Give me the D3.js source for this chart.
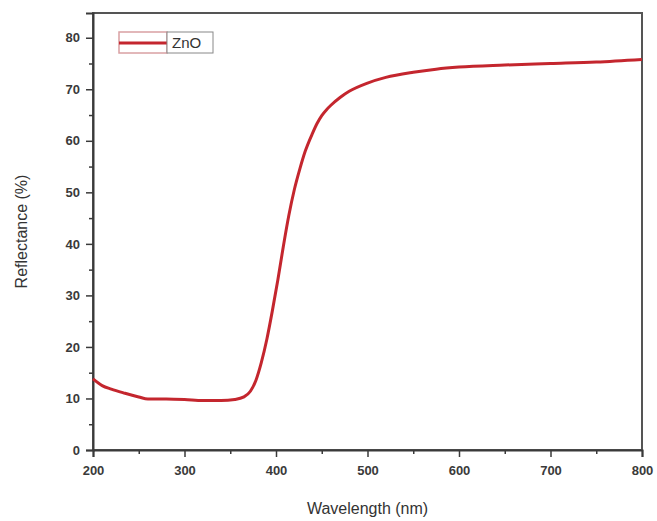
<!DOCTYPE html>
<html>
<head>
<meta charset="utf-8">
<script src="https://cdn.jsdelivr.net/npm/d3@7"></script>
<style>
  body { margin: 0; background: #fff; }
  text { font-family: "Liberation Sans", Arial, sans-serif; }
</style>
</head>
<body>
<svg id="chart" width="657" height="521"></svg>
<script>
// wavelength (nm) and reflectance (%)
var wavelength = [200, 210, 220, 235, 250, 260, 280, 300, 320, 340, 355, 365, 372, 378, 384, 390, 396, 402, 408, 414, 420, 426, 432, 440, 445, 450, 455, 460, 470, 480, 500, 520, 550, 575, 600, 650, 700, 750, 800];
var reflectance = [13.8, 12.5, 11.8, 11.0, 10.3, 9.9, 9.9, 9.8, 9.6, 9.6, 9.8, 10.3, 11.4, 13.5, 17, 21.5, 27, 33, 39.5, 45.5, 50.5, 54.5, 58, 61.5, 63.4, 64.9, 66.0, 66.9, 68.4, 69.6, 71.2, 72.3, 73.3, 73.9, 74.3, 74.7, 75.0, 75.3, 75.8];
var xTicks = [200, 300, 400, 500, 600, 700, 800];
var yTicks = [0, 10, 20, 30, 40, 50, 60, 70, 80];
var seriesName = "ZnO";

var svg = d3.select("#chart");
var mLeft = 93, mRight = 642, mTop = 13, mBottom = 450;

var x = d3.scaleLinear().domain([200, 800]).range([mLeft, mRight]);
var y = d3.scaleLinear().domain([0, 84.8]).range([mBottom, mTop]);

var axisColor = "#3a3a3a";

// frame
svg.append("rect")
  .attr("x", mLeft).attr("y", mTop)
  .attr("width", mRight - mLeft).attr("height", mBottom - mTop)
  .attr("fill", "none").attr("stroke", "#555").attr("stroke-width", 2);

// x axis
svg.append("g")
  .attr("transform", "translate(0," + mBottom + ")")
  .call(d3.axisBottom(x).tickValues(xTicks).tickSize(7).tickPadding(9).tickFormat(d3.format("d")));
svg.append("g")
  .attr("transform", "translate(0," + mBottom + ")")
  .call(d3.axisBottom(x).tickValues(d3.range(250, 800, 100)).tickSize(4).tickFormat(""))
  .select(".domain").remove();

// y axis
svg.append("g")
  .attr("transform", "translate(" + mLeft + ",0)")
  .call(d3.axisLeft(y).tickValues(yTicks).tickSize(7).tickPadding(6).tickFormat(d3.format("d")));
svg.append("g")
  .attr("transform", "translate(" + mLeft + ",0)")
  .call(d3.axisLeft(y).tickValues(d3.range(5, 85, 10)).tickSize(4).tickFormat(""))
  .select(".domain").remove();

svg.selectAll(".domain").attr("stroke", axisColor).attr("stroke-width", 2);
svg.selectAll(".tick line").attr("stroke", axisColor).attr("stroke-width", 1.5);
svg.selectAll(".tick text")
  .attr("fill", "#3a3a3a").style("font-size", "13px").style("font-weight", "bold");

// axis titles
svg.append("text")
  .attr("x", (mLeft + mRight) / 2).attr("y", 514)
  .attr("text-anchor", "middle")
  .attr("fill", "#333").style("font-size", "16px")
  .text("Wavelength (nm)");
svg.append("text")
  .attr("transform", "translate(27," + ((mTop + mBottom) / 2) + ") rotate(-90)")
  .attr("text-anchor", "middle")
  .attr("fill", "#333").style("font-size", "16px")
  .text("Reflectance (%)");

// curve
var data = wavelength.map(function(d, i) { return [d, reflectance[i]]; });
var line = d3.line()
  .x(function(d) { return x(d[0]); })
  .y(function(d) { return y(d[1]); })
  .curve(d3.curveMonotoneX);

svg.append("path")
  .datum(data)
  .attr("fill", "none")
  .attr("stroke", "#c4262e")
  .attr("stroke-width", 3)
  .attr("d", line);

// legend
var lg = svg.append("g");
lg.append("rect")
  .attr("x", 119).attr("y", 32).attr("width", 48).attr("height", 21)
  .attr("fill", "#fff").attr("stroke", "#d9a0a3").attr("stroke-width", 1.5);
lg.append("line")
  .attr("x1", 119).attr("x2", 167).attr("y1", 43).attr("y2", 43)
  .attr("stroke", "#c4262e").attr("stroke-width", 3);
lg.append("rect")
  .attr("x", 167).attr("y", 32).attr("width", 46).attr("height", 21)
  .attr("fill", "#fff").attr("stroke", "#888").attr("stroke-width", 1);
lg.append("text")
  .attr("x", 172).attr("y", 48)
  .attr("fill", "#333").style("font-size", "15px")
  .text(seriesName);
</script>
</body>
</html>
